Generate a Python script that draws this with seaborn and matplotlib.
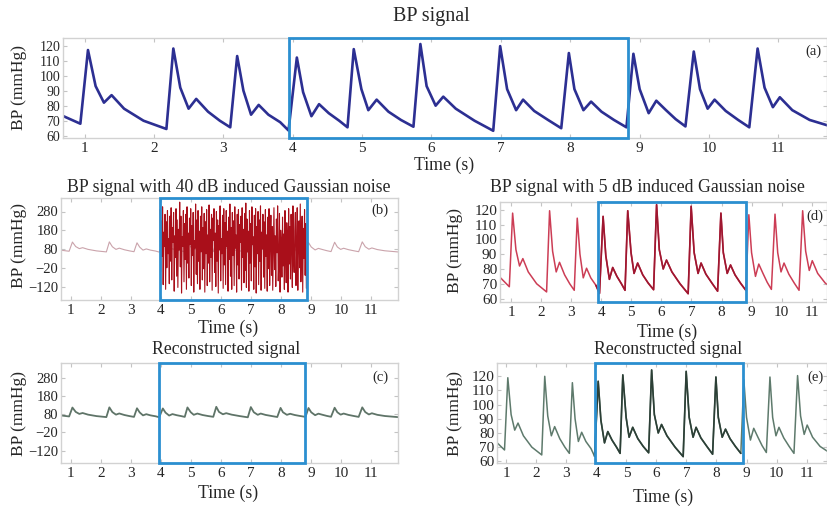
import numpy as np
import pandas as pd
import seaborn as sns
import matplotlib
matplotlib.use("Agg")
import matplotlib.pyplot as plt
from matplotlib.patches import Rectangle
import matplotlib.transforms as mtransforms

# ---------------- data ----------------
# beat landmarks of the BP waveform (time in s, value in mmHg)
onset_t = [0.94, 2.18, 3.10, 3.94, 4.79, 5.74, 6.89, 7.87, 8.81, 9.66, 10.58]
onset_v = [68.0, 64.5, 65.6, 63.5, 65.6, 66.0, 63.3, 65.0, 65.6, 66.2, 65.6]
peak_t = [1.05, 2.28, 3.20, 4.06, 4.88, 5.84, 6.99, 7.98, 8.91, 9.78, 10.70]
peak_v_a = [117, 118, 113, 112, 117.6, 121, 119.6, 115, 114.5, 116, 118]
peak_v_d = [117.7, 119.3, 114.3, 115.5, 119.3, 123.4, 122.3, 117.7, 116.6, 117, 119.3]
peak_v_e = [119, 120, 115.5, 116.5, 121, 124.5, 123.5, 119.5, 117.5, 119.5, 120.5]
shoulder_t = [1.16, 2.38, 3.29, 4.15, 4.99, 5.93, 7.09, 8.06, 9.00, 9.87, 10.80]
shoulder_v = [93, 92, 90, 89, 91, 93, 91, 91, 91, 91, 92]
notch_t = [1.28, 2.50, 3.40, 4.27, 5.09, 6.06, 7.22, 8.19, 9.13, 9.98, 10.92]
notch_v = [82, 78, 74, 73, 77, 80, 77, 77, 75, 78, 79]
dic_t = [1.39, 2.61, 3.51, 4.38, 5.21, 6.17, 7.32, 8.30, 9.24, 10.08, 11.02]
dic_v = [87, 84.5, 80.5, 81, 84, 86, 84, 82.7, 83.3, 84, 85.6]
mid1_t = [1.57, 2.78, 3.65, 4.52, 5.38, 6.35, 7.48, 8.45, 9.38, 10.24, 11.20]
mid1_v = [78, 76, 74, 75, 76, 78, 76.5, 76, 77, 76.5, 77]
mid2_t = [1.85, 2.95, 3.82, 4.67, 5.56, 6.62, 7.68, 8.63, 9.52, 10.42, 11.45]
mid2_v = [70, 70, 69, 70, 70.5, 70, 70.5, 70.5, 71, 70.5, 70.5]
start_t, start_v = 0.60, 75.0
end_t, end_v = 11.95, 63.5

# heavy Gaussian-noise segment of panel (b), samples inside the marked window
noise_vals = [
    290, -40, 230, 40, 305, -110, 170, 95, 265, -135, 225, -20, 285, 55, 135, -105, 255, 15, 300, -85,
    195, 115, 275, -145, 150, 35, 295, -65, 235, -125, 185, 75, 330, -15, 255, -155, 145, 95, 285, -95,
    215, 25, 265, -135, 305, 5, 165, -75, 245, 105, 295, -115, 205, 45, 275, -150, 125, 85, 320, -55,
    235, -105, 285, 15, 175, -135, 255, 65, 305, -85, 195, -25, 270, -150, 225, 55, 290, -115, 155, 5,
    315, -95, 185, 35, 265, -140, 245, 125, 295, -45, 165, -120, 280, 15, 235, -155, 205, 75, 310, -90,
    135, 55, 260, -130, 295, -5, 220, -110, 285, 95, 175, -145, 250, 25, 320, -65, 195, -135, 275, 45,
    230, -115, 305, 85, 155, -150, 265, -5, 290, -80, 210, 115, 255, -140, 300, 35, 185, -100, 270, -35,
    325, -125, 240, 65, 175, -145, 285, 5, 215, -90, 305, 105, 145, -135, 260, -15, 295, -155, 200, 55,
    280, -110, 235, 15, 310, -140, 170, 80, 265, -70, 225, -130, 290, 40, 155, -145, 250, -25, 295, -115,
    120, 260, -60, 200, -140, 90, 300, -30, 150, -120, 240, 60, 310, -90, 20, 270, -150, 180, 110, -70,
    250, -10, 160, -135, 285, 70, -100, 220, 130, -150, 295, 0, 200, -80, 265, 90, -125, 310, 40, -45,
    175, 275, -115, 60, 300, -140, 145, 230, -20, 320, -95, 100, 255, -150, 190, 30, 290, -60, 215, -130,
]
noise_start, noise_end = 3.97, 8.84

x_ticks = [1, 2, 3, 4, 5, 6, 7, 8, 9, 10, 11]
y_ticks_small = [60, 70, 80, 90, 100, 110, 120]
y_ticks_big = [-120, -20, 80, 180, 280]

# --------------- helpers ---------------
def build(peaks):
    t, v = [start_t], [start_v]
    for i in range(len(onset_t)):
        t += [onset_t[i], peak_t[i], shoulder_t[i], notch_t[i], dic_t[i], mid1_t[i], mid2_t[i]]
        v += [onset_v[i], peaks[i], shoulder_v[i], notch_v[i], dic_v[i], mid1_v[i], mid2_v[i]]
    t.append(end_t)
    v.append(end_v)
    return pd.DataFrame({"t": t, "bp": v})

sig_a = build(peak_v_a)
sig_d = build(peak_v_d)
sig_e = build(peak_v_e)
noise_df = pd.DataFrame({"t": np.linspace(noise_start, noise_end, len(noise_vals)),
                         "bp": noise_vals})

sns.set_theme(style="white")
plt.rcParams["font.family"] = ["Liberation Serif", "DejaVu Serif"]

W, H = 827, 507
fig = plt.figure(figsize=(W / 100, H / 100), dpi=100)
fig.patch.set_facecolor("white")


def add_ax(l, t, r, b):
    return fig.add_axes([l / W, 1 - b / H, (r - l) / W, (b - t) / H])


def ftext(x, y, s, **kw):
    fig.text(x / W, 1 - y / H, s, ha=kw.pop("ha", "center"), va=kw.pop("va", "center"), **kw)


BOX = "#2b8fd0"


def style(ax, xlim, ylim, yticks, xfs, yfs):
    ax.set_xlim(*xlim)
    ax.set_ylim(*ylim)
    ax.set_xticks(x_ticks)
    ax.set_yticks(yticks)
    ax.tick_params(direction="in", length=3, width=0.8, color="#c4c4c4",
                   bottom=True, left=True, top=True, right=True, pad=2)
    ax.tick_params(axis="x", labelsize=xfs, pad=3)
    ax.tick_params(axis="y", labelsize=yfs, pad=2)
    for s in ax.spines.values():
        s.set_color("#d2d2d2")
        s.set_linewidth(1.0)
    ax.set_xlabel("")
    ax.set_ylabel("")
    leg = ax.get_legend()
    if leg is not None:
        leg.remove()


def box(ax, x0, x1):
    tr = mtransforms.blended_transform_factory(ax.transData, ax.transAxes)
    ax.add_patch(Rectangle((x0, 0.0), x1 - x0, 1.0, transform=tr, fill=False,
                           edgecolor=BOX, linewidth=2.0, clip_on=False, zorder=5))


ax_a = add_ax(63, 38, 827, 138)
ax_b = add_ax(61, 198, 398, 300)
ax_d = add_ax(500, 202, 827, 302)
ax_c = add_ax(61, 363, 398, 463)
ax_e = add_ax(497, 363, 827, 463)

# (a) clean BP signal
sns.lineplot(data=sig_a, x="t", y="bp", ax=ax_a, color="#2c2f92", linewidth=1.9,
             estimator=None, sort=False)
style(ax_a, (0.69, 11.70), (58.5, 125), y_ticks_small, 11, 10)
box(ax_a, 3.95, 8.83)

# (b) 40 dB noise
sns.lineplot(data=sig_a, x="t", y="bp", ax=ax_b, color="#caa3ab", linewidth=0.8,
             estimator=None, sort=False)
sns.lineplot(data=noise_df, x="t", y="bp", ax=ax_b, color="#a90f1a", linewidth=0.8,
             estimator=None, sort=False)
style(ax_b, (0.67, 11.89), (-192, 352), y_ticks_big, 11, 10.5)
box(ax_b, 3.95, 8.86)

# (d) 5 dB noise
sns.lineplot(data=sig_d, x="t", y="bp", ax=ax_d, color="#cc3d55", linewidth=1.1,
             estimator=None, sort=False)
in_d = sig_d[(sig_d.t >= 3.80) & (sig_d.t <= 8.85)]
sns.lineplot(data=in_d, x="t", y="bp", ax=ax_d, color="#9e1730", linewidth=1.2,
             estimator=None, sort=False)
style(ax_d, (0.63, 11.51), (57.7, 125.2), y_ticks_small, 11, 11)
box(ax_d, 3.89, 8.80)

# (c) reconstructed, big scale
sns.lineplot(data=sig_a, x="t", y="bp", ax=ax_c, color="#5f7468", linewidth=1.3,
             estimator=None, sort=False)
style(ax_c, (0.67, 11.89), (-188, 362), y_ticks_big, 11, 10.5)
box(ax_c, 3.93, 8.80)

# (e) reconstructed, small scale
sns.lineplot(data=sig_e, x="t", y="bp", ax=ax_e, color="#5e7a6c", linewidth=1.1,
             estimator=None, sort=False)
in_e = sig_e[(sig_e.t >= 3.85) & (sig_e.t <= 8.90)]
sns.lineplot(data=in_e, x="t", y="bp", ax=ax_e, color="#2c3f36", linewidth=1.2,
             estimator=None, sort=False)
style(ax_e, (0.69, 11.68), (58.8, 129.4), y_ticks_small, 11, 11)
box(ax_e, 3.97, 8.87)

# titles and labels
ftext(431, 17, "BP signal", fontsize=14.5)
ftext(229, 187, "BP signal with 40 dB induced Gaussian noise", fontsize=12.8)
ftext(647, 188, "BP signal with 5 dB induced Gaussian noise", fontsize=12.8)
ftext(226, 349, "Reconstructed signal", fontsize=12.8)
ftext(668, 350, "Reconstructed signal", fontsize=12.8)

for (x, y) in [(444, 165), (228, 328), (667, 332), (228, 493), (663, 497)]:
    ftext(x, y, "Time (s)", fontsize=12.8)
for (x, y) in [(19, 88), (19, 246), (455, 250), (19, 414), (455, 414)]:
    ftext(x, y, "BP (mmHg)", fontsize=12.5, rotation=90)

for (x, y, s) in [(813, 51, "(a)"), (380, 210, "(b)"), (815, 216, "(d)"),
                  (380, 377, "(c)"), (815, 377, "(e)")]:
    ftext(x, y, s, fontsize=10.5)

fig.savefig("out.png", dpi=100, facecolor="white")
